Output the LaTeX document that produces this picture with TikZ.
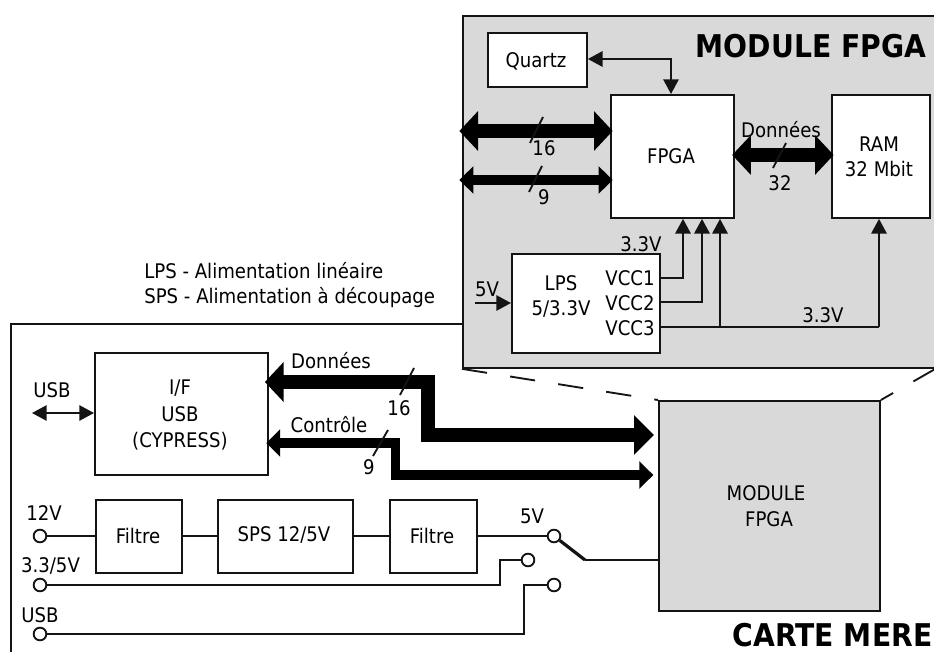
\documentclass[tikz,border=0pt]{standalone}
\usepackage{fontspec}
\setmainfont{DejaVu Sans}[FakeStretch=0.9]
\usetikzlibrary{arrows.meta}
\definecolor{panel}{RGB}{217,217,217}
\definecolor{ink}{RGB}{20,20,20}
\tikzset{
  x=0.75pt,y=-0.75pt,
  every node/.style={text=black,font=\fontsize{15.1pt}{17pt}\selectfont,inner sep=0pt},
  block/.style={draw=ink,fill=white,line width=1.4pt,anchor=north west},
  panelbox/.style={draw=ink,fill=panel,line width=1.4pt},
  wire/.style={draw=ink,line width=1.4pt},
  sig/.style={wire,{Triangle[length=11pt,width=11.5pt]}-{Triangle[length=11pt,width=11.5pt]}},
  pow/.style={wire,-{Triangle[length=11pt,width=11.5pt]}},
  busA/.style={draw=black,line width=10.5pt,miter limit=10},
  busB/.style={draw=black,line width=6.8pt,miter limit=10},
  dheadA/.style={{Triangle[length=14pt,width=29pt]}-{Triangle[length=14pt,width=29pt]},shorten <=-2pt,shorten >=-2pt},
  dheadB/.style={{Triangle[length=10.5pt,width=20pt]}-{Triangle[length=10.5pt,width=20pt]},shorten <=-2pt,shorten >=-2pt},
  slash/.style={draw=ink,line width=1.4pt},
  port/.style={circle,draw=ink,fill=white,line width=1.4pt,minimum size=9.5pt},
  title/.style={font=\fontsize{23.5pt}{28pt}\selectfont\bfseries},
  zoomline/.style={draw=ink,line width=1.4pt,dash pattern=on 19pt off 17.5pt},
}
\begin{document}
\begin{tikzpicture}
\useasboundingbox (0,0) rectangle (934,652);
% carte mere outline
\coordinate (cmA) at (462,324);
\coordinate (cmB) at (11,324);
\coordinate (cmC) at (11,652);
\draw[wire] (cmA) -- (cmB) -- (cmC);

% module panel
\node[panelbox,anchor=north west,minimum width=471.5*0.75pt,minimum height=352*0.75pt] (panel) at (462,15) {};
\node[title] (t1) at (811,46) {MODULE FPGA};
\node[block,minimum width=99*0.75pt,minimum height=54*0.75pt] (quartz) at (487,32) {};
\node (quartzt) at (536,61) {Quartz};
\node[block,minimum width=123*0.75pt,minimum height=123*0.75pt] (fpga) at (610,94) {};
\node (fpgat) at (671,156) {FPGA};
\node[block,minimum width=98*0.75pt,minimum height=123*0.75pt] (ram) at (831,94) {};
\node (ramt) at (879,144) {RAM};
\node (ramu) at (879,169) {32 Mbit};
\node[block,minimum width=148*0.75pt,minimum height=99*0.75pt] (lps) at (511,253) {};
\node (lpst) at (561,283) {LPS};
\node (lpsu) at (561,309) {5/3.3V};
\node (vcc1) at (630,278) {VCC1};
\node (vcc2) at (630,303) {VCC2};
\node (vcc3) at (630,328) {VCC3};

% quartz link
\coordinate (qk) at (671,59);
\draw[wire,{Triangle[length=11pt,width=11.5pt]}-{Triangle[length=11pt,width=11.5pt]}] (quartz.east |- qk) -- (qk) -- (qk |- fpga.north);

% buses on the panel
\coordinate (p16) at (462,131);
\coordinate (p9) at (462,180);
\coordinate (d32) at (782,155);
\draw[busA,dheadA] (p16) -- (p16 -| fpga.west);
\draw[busB,dheadB] (p9) -- (p9 -| fpga.west);
\draw[busA,dheadA] (fpga.east |- d32) -- (ram.west |- d32);
\coordinate (s1a) at (543,117); \coordinate (s1b) at (530,143);
\coordinate (s2a) at (542,166); \coordinate (s2b) at (529,192);
\coordinate (s3a) at (786,143); \coordinate (s3b) at (773,168);
\draw[slash] (s1a) -- (s1b);
\draw[slash] (s2a) -- (s2b);
\draw[slash] (s3a) -- (s3b);
\node (l16) at (544,148) {16};
\node (l9) at (544,197) {9};
\node (l32) at (780,183) {32};
\node (ldon) at (781,130) {Données};

% power
\coordinate (v1) at (683,278);
\coordinate (v2) at (702,302);
\coordinate (v3) at (720,327);
\coordinate (v4) at (879,327);
\draw[pow] (lps.east |- v1) -- (v1) -- (v1 |- fpga.south);
\draw[pow] (lps.east |- v2) -- (v2) -- (v2 |- fpga.south);
\draw[wire] (lps.east |- v3) -- (v4);
\draw[pow] (v3) -- (v3 |- fpga.south);
\draw[pow] (v4) -- (v4 |- ram.south);
\node (l33a) at (641,244) {3.3V};
\node (l33b) at (823,315) {3.3V};
\node (l5v) at (487,289) {5V};
\coordinate (in5) at (475,303);
\draw[pow] (in5) -- (in5 -| lps.west);

% main board
\node[panelbox,anchor=north west,minimum width=221*0.75pt,minimum height=210*0.75pt] (mod) at (658,400) {};
\node (modt) at (766,493) {MODULE};
\node (modu) at (769,519) {FPGA};
\node[title] (t2) at (832.5,635) {CARTE MERE};
\draw[zoomline] (panel.south west) -- (mod.north west);
\draw[zoomline] (panel.south east) -- (mod.north east);

\node[block,minimum width=173*0.75pt,minimum height=122*0.75pt] (usb) at (94,352) {};
\node (usbt) at (180,388) {I/F};
\node (usbu) at (180,414) {USB};
\node (usbv) at (180,441) {(CYPRESS)};
\coordinate (usbext) at (32,413);
\node (lusb) at (52,390) {USB};
\draw[sig] (usbext) -- (usbext -| usb.west);

\coordinate (b1) at (428,382);
\coordinate (b2) at (428,435);
\coordinate (b3) at (395.5,443);
\coordinate (b4) at (395.5,475);
\draw[busA,{Triangle[length=14pt,width=29pt]}-{Triangle[length=15pt,width=29pt]},shorten >=3pt,shorten <=-3pt] (usb.east |- b1) -- (b1) -- (b2) -- (b2 -| mod.west);
\draw[busB,{Triangle[length=10.5pt,width=20pt]}-{Triangle[length=10.5pt,width=20pt]},shorten >=3.5pt,shorten <=-2pt] (usb.east |- b3) -- (b3) -- (b4) -- (b4 -| mod.west);
\coordinate (s4a) at (414,368); \coordinate (s4b) at (400,395);
\coordinate (s5a) at (388,430); \coordinate (s5b) at (373,456);
\draw[slash] (s4a) -- (s4b);
\draw[slash] (s5a) -- (s5b);
\node (l16b) at (399,408) {16};
\node (l9b) at (369,467) {9};
\node (ldonb) at (331,361) {Données};
\node (lctl) at (329,425) {Contrôle};

% supply
\node[block,minimum width=86*0.75pt,minimum height=73*0.75pt] (f1) at (95,499) {};
\node (f1t) at (138,536) {Filtre};
\node[block,minimum width=135*0.75pt,minimum height=73*0.75pt] (sps) at (217,499) {};
\node (spst) at (284,535) {SPS 12/5V};
\node[block,minimum width=87*0.75pt,minimum height=73*0.75pt] (f2) at (389,499) {};
\node (f2t) at (432,536) {Filtre};
\node[port] (p12) at (40,536) {};
\node[port] (p33) at (40,585) {};
\node[port] (pu) at (40,634) {};
\node[port] (s5) at (554,536) {};
\node[port] (s33) at (528,560) {};
\node[port] (su) at (554,585) {};
\node (l12) at (44,513) {12V};
\node (l335) at (50.5,566) {3.3/5V};
\node (lusbp) at (40,615) {USB};
\node (l5vs) at (532,516) {5V};
\draw[wire] (p12) -- (f1.west |- p12);
\draw[wire] (f1.east |- p12) -- (sps.west |- p12);
\draw[wire] (sps.east |- p12) -- (f2.west |- p12);
\draw[wire] (f2.east |- p12) -- (s5);
\coordinate (k33) at (500,585);
\draw[wire] (p33) -- (k33) -- (k33 |- s33) -- (s33);
\coordinate (ku) at (524,634);
\draw[wire] (pu) -- (ku) -- (ku |- su) -- (su);
\coordinate (sw) at (585,560);
\draw[draw=ink,line width=2.4pt] (s5) -- (sw);
\draw[wire] (sw) -- (sw -| mod.west);

% legend
\node[anchor=base west] (leg1) at (144,278) {LPS - Alimentation linéaire};
\node[anchor=base west] (leg2) at (144,303) {SPS - Alimentation à découpage};
\end{tikzpicture}
\end{document}
